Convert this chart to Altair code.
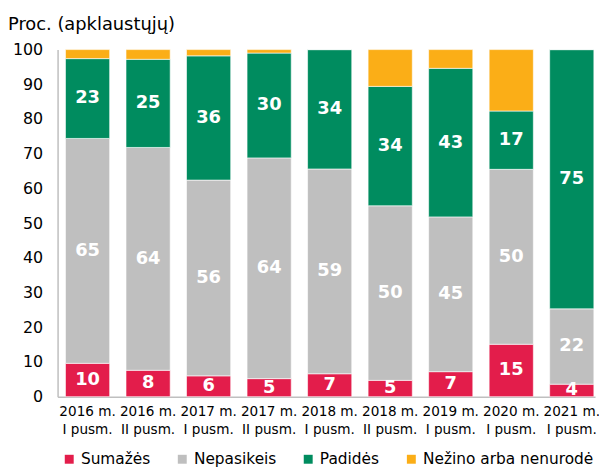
import altair as alt
import pandas as pd

categories = ["2016 m.|I pusm.", "2016 m.|II pusm.", "2017 m.|I pusm.", "2017 m.|II pusm.",
              "2018 m.|I pusm.", "2018 m.|II pusm.", "2019 m.|I pusm.", "2020 m.|I pusm.",
              "2021 m.|I pusm."]
series = ["Sumažės", "Nepasikeis", "Padidės", "Nežino arba nenurodė"]
colors = ["#E31D4B", "#BFBFBF", "#008C5F", "#FBAE17"]

sumazes = [9.6, 7.6, 6.0, 5.2, 6.6, 4.7, 7.2, 15.1, 3.6]
nepasikeis = [64.8, 64.2, 56.4, 63.6, 59.0, 50.3, 44.6, 50.4, 21.7]
padides = [23.0, 25.4, 35.8, 30.2, 34.4, 34.4, 42.8, 16.8, 74.7]
nezino = [2.6, 2.8, 1.8, 1.0, 0.0, 10.6, 5.4, 17.7, 0.0]
y_ticks = [0, 10, 20, 30, 40, 50, 60, 70, 80, 90, 100]

rows = []
for i, c in enumerate(categories):
    for k, (s, vals) in enumerate(zip(series, [sumazes, nepasikeis, padides, nezino])):
        rows.append({"cat": c, "series": s, "k": k, "value": vals[i]})
df = pd.DataFrame(rows)

FONT = "DejaVu Sans"

x_scale = alt.Scale(paddingInner=0.27, paddingOuter=0.075, align=0.87)
y_scale = alt.Scale(domain=[0, 100], nice=False)

x_axis = alt.Axis(title=None, labelAngle=0, ticks=False, domainColor="#BFBFBF",
                  domainWidth=1.5, labelFontSize=13.7, labelFont=FONT,
                  labelColor="#000", labelExpr="split(datum.value, '|')",
                  labelLineHeight=18, labelPadding=8, labelOverlap=False,
                  labelLimit=0)
y_axis = alt.Axis(title=None, values=y_ticks, tickCount=11, grid=False, ticks=False,
                  domainColor="#BFBFBF", domainWidth=1.5, labelFontSize=16,
                  labelFont=FONT, labelColor="#000", labelPadding=15,
                  labelOverlap=False, labelFlush=False)

bars = alt.Chart(df).mark_bar(stroke="white", strokeWidth=0.6).encode(
    x=alt.X("cat:N", sort=categories, scale=x_scale, axis=x_axis),
    y=alt.Y("value:Q", stack="zero", scale=y_scale, axis=y_axis),
    color=alt.Color("series:N", sort=series,
                    scale=alt.Scale(domain=series, range=colors),
                    legend=alt.Legend(title=None, orient="none", legendX=4, legendY=405,
                                      direction="horizontal", symbolType="square",
                                      symbolSize=81, symbolStrokeWidth=0,
                                      labelFontSize=15.5, labelFont=FONT, labelColor="#000",
                                      labelLimit=0, columnPadding=24, padding=0)),
    order=alt.Order("k:Q", sort="ascending"),
)

labels = alt.Chart(df).transform_stack(
    stack="value", groupby=["cat"], as_=["y0", "y1"], sort=[alt.SortField("k", order="ascending")]
).transform_calculate(
    mid="(datum.y0 + datum.y1) / 2"
).transform_filter(
    "datum.k < 3"
).mark_text(color="white", fontWeight="bold", fontSize=18, font=FONT, baseline="middle").encode(
    x=alt.X("cat:N", sort=categories, scale=x_scale, axis=x_axis),
    y=alt.Y("mid:Q", scale=y_scale, axis=y_axis),
    text=alt.Text("value:Q", format=".0f"),
)

chart = alt.layer(bars, labels).properties(
    width=542, height=350,
    title=alt.TitleParams("Proc. (apklaustųjų)", anchor="start", frame="group", dx=-50,
                          fontSize=18, font=FONT, fontWeight="normal", color="#000",
                          offset=8),
    padding={"left": 50, "top": 40, "right": 4, "bottom": 70},
    autosize=alt.AutoSizeParams(type="none"),
).configure_view(stroke=None).configure_axisY(labelOverlap=False)

chart.save("out.html", embed_options={"renderer": "svg", "actions": False})
